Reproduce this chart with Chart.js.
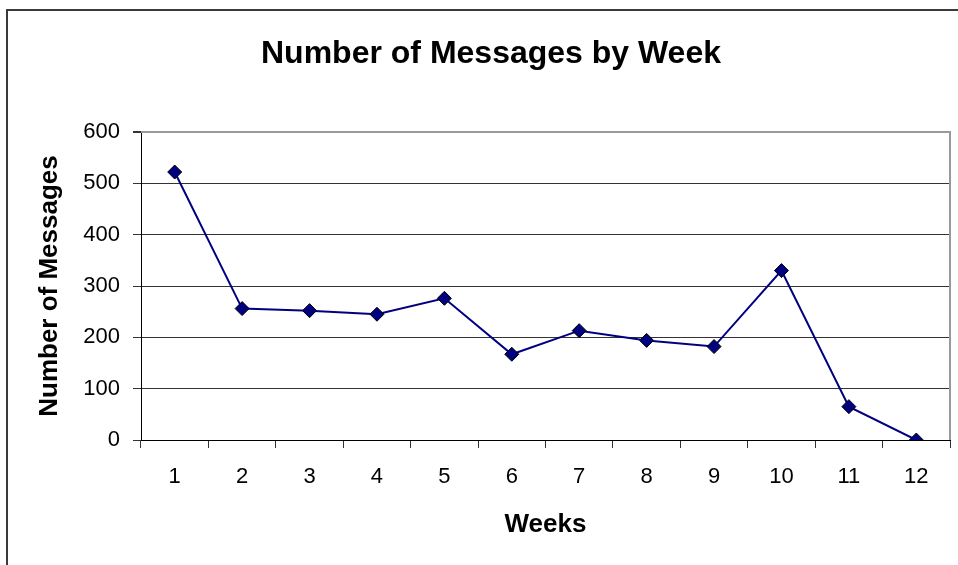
<!DOCTYPE html>
<html>
<head>
<meta charset="utf-8">
<script src="https://cdn.jsdelivr.net/npm/chart.js@4.4.0/dist/chart.umd.min.js"></script>
<style>
  html, body { margin: 0; padding: 0; background: #fff; }
  #wrap { position: relative; width: 958px; height: 565px; overflow: hidden; }
  #frame { position: absolute; left: 6px; top: 9px; width: 1000px; height: 600px;
           border-left: 2px solid #3a3a3a; border-top: 2px solid #3a3a3a; }
  canvas { position: absolute; left: 0; top: 0; }
</style>
</head>
<body>
<div id="wrap">
  <div id="frame"></div>
  <canvas id="weekChart" width="958" height="565"></canvas>
</div>
<script>
// chart data
const weeks = ["1", "2", "3", "4", "5", "6", "7", "8", "9", "10", "11", "12"];
const messages = [522, 256, 252, 245, 276, 167, 213, 194, 182, 330, 65, 0];
const yTicks = [0, 100, 200, 300, 400, 500, 600];

const fontFamily = "'Liberation Sans', Arial, sans-serif";

// gray frame on top and right of the plot area
const plotFrame = {
    id: 'plotFrame',
    afterDatasetsDraw(chart) {
        const { ctx, chartArea } = chart;
        ctx.save();
        ctx.strokeStyle = '#9a9a9a';
        ctx.lineWidth = 2;
        ctx.beginPath();
        ctx.moveTo(chartArea.left, chartArea.top);
        ctx.lineTo(chartArea.right, chartArea.top);
        ctx.lineTo(chartArea.right, chartArea.bottom);
        ctx.stroke();
        ctx.restore();
    }
};

const ctx = document.getElementById('weekChart').getContext('2d');
new Chart(ctx, {
    type: 'line',
    data: {
        labels: weeks,
        datasets: [{
            label: 'Messages',
            data: messages,
            borderColor: '#000080',
            borderWidth: 2,
            pointStyle: 'rectRot',
            pointRadius: 7,
            pointHoverRadius: 7,
            pointBackgroundColor: '#000080',
            pointBorderColor: '#000000',
            pointBorderWidth: 1,
            tension: 0
        }]
    },
    options: {
        responsive: false,
        animation: false,
        layout: { padding: { left: 28, right: 4, top: 0, bottom: 0 } },
        plugins: {
            legend: { display: false },
            tooltip: { enabled: false },
            title: {
                display: true,
                text: 'Number of Messages by Week',
                color: '#000',
                font: { family: fontFamily, size: 32, weight: 'bold' },
                padding: { top: 35, bottom: 58.6 }
            }
        },
        scales: {
            x: {
                offset: true,
                afterFit: (scale) => { scale.height = 125; },
                grid: { drawOnChartArea: false, offset: true, tickLength: 8, tickColor: '#333' },
                border: { color: '#000', width: 1 },
                ticks: { color: '#000', padding: 16, font: { family: fontFamily, size: 22 } },
                title: {
                    display: true,
                    text: 'Weeks',
                    color: '#000',
                    font: { family: fontFamily, size: 26, weight: 'bold' },
                    padding: { top: 0, bottom: 25 }
                }
            },
            y: {
                min: 0,
                max: 600,
                afterFit: (scale) => { scale.width = 113; },
                afterBuildTicks: (scale) => { scale.ticks = yTicks.map(v => ({ value: v })); },
                grid: {
                    color: (c) => c.tick && c.tick.value === 600 ? '#9a9a9a' : '#333',
                    lineWidth: (c) => c.tick && c.tick.value === 600 ? 2 : 1,
                    tickLength: 8,
                    tickColor: '#333'
                },
                border: { color: '#000', width: 1 },
                ticks: { color: '#000', padding: 13, font: { family: fontFamily, size: 22 } },
                title: {
                    display: true,
                    text: 'Number of Messages',
                    color: '#000',
                    font: { family: fontFamily, size: 26, weight: 'bold' },
                    padding: { top: 6, bottom: 0 }
                }
            }
        }
    },
    plugins: [plotFrame]
});
</script>
</body>
</html>
